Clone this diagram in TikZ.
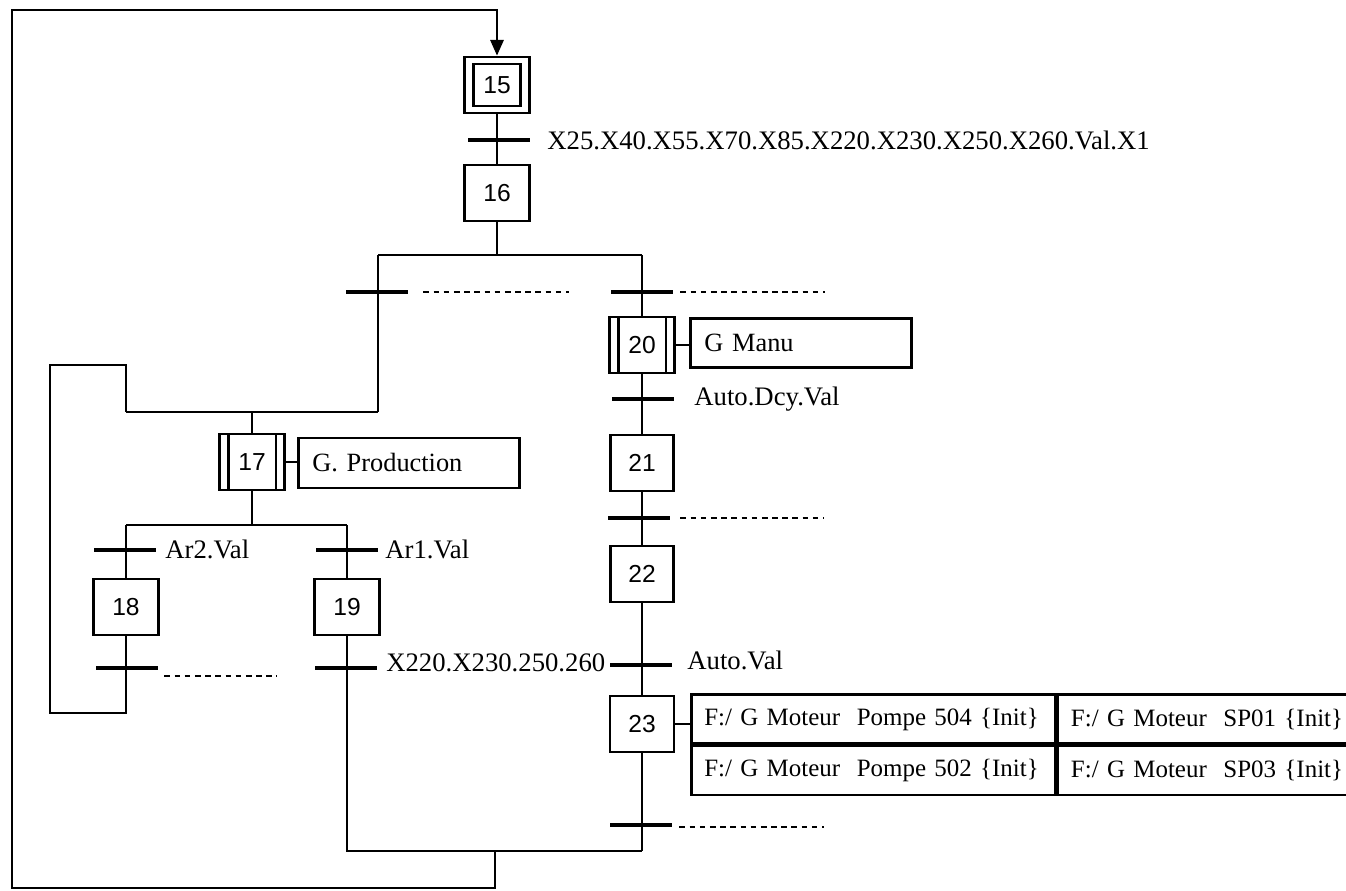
\documentclass[tikz,border=0pt]{standalone}
\usepackage{fontspec}
\setmainfont{Liberation Serif}
\setsansfont{Liberation Sans}
\usetikzlibrary{arrows.meta}

\begin{document}
\begin{tikzpicture}[x=0.2mm,y=-0.2mm,
    lien/.style={line width=1.5pt},
    etape/.style={draw, line width=1.5pt, fill=white, minimum width=13mm, minimum height=11.2mm, inner sep=0pt, font=\sffamily\fontsize{14}{16}\selectfont},
    macroetape/.style={etape, path picture={
        \draw[line width=1.3pt] ([xshift=1.8mm]path picture bounding box.north west) -- ([xshift=1.8mm]path picture bounding box.south west);
        \draw[line width=1.3pt] ([xshift=-1.7mm]path picture bounding box.north east) -- ([xshift=-1.7mm]path picture bounding box.south east);}},
    transbar/.style={fill=black, minimum width=12.4mm, minimum height=0.8mm, inner sep=0pt},
    recept/.style={anchor=west, inner sep=0pt, font=\fontsize{15.2}{18}\selectfont},
    pointille/.style={line width=1.1pt, dash pattern=on 3.2pt off 2.6pt},
    action/.style={draw, line width=1.5pt, anchor=west, minimum height=10mm, text width=38.6mm, inner xsep=2.8mm, align=left, font=\fontsize{15}{18}\selectfont},
    cellule/.style={draw, line width=1.5pt, anchor=west, minimum height=9.8mm, inner xsep=2.6mm, align=left, font=\fontsize{14.2}{17}\selectfont}
]
    \useasboundingbox (0,0) rectangle (1346,890);

    % Steps, main line
    \node[etape] (s15) at (497,85) {};
    \node[etape, minimum width=9.4mm, minimum height=8.4mm] (s15n) at (s15.center) {15};
    \node[etape] (s16) at (497,193) {16};

    % Left branch
    \node[macroetape] (s17) at (252,462) {17};
    \node[action] (prod) at (297,463) {G. Production};
    \node[etape] (s18) at (126,607) {18};
    \node[etape] (s19) at (347,607) {19};

    % Right branch
    \node[macroetape] (s20) at (642,345) {20};
    \node[action, minimum height=9.8mm] (manu) at (689,343) {G Manu};
    \node[etape, minimum width=12.6mm] (s21) at (642,463) {21};
    \node[etape, minimum width=12.6mm] (s22) at (642,574) {22};
    \node[etape, minimum width=12.8mm] (s23) at (642,724) {23};

    % Actions of step 23
    \node[cellule, minimum width=72.8mm, text width=67.6mm] (a1) at (690,719) {\mbox{F:/ G Moteur~~Pompe 504 \{Init\}}};
    \node[cellule, minimum width=59.6mm, text width=54.4mm] (a2) at (a1.east) {\mbox{F:/ G Moteur~~SP01 \{Init\}}};
    \node[cellule, minimum width=72.8mm, text width=67.6mm, anchor=north west] (a3) at (a1.south west) {\mbox{F:/ G Moteur~~Pompe 502 \{Init\}}};
    \node[cellule, minimum width=59.6mm, text width=54.4mm] (a4) at (a3.east) {\mbox{F:/ G Moteur~~SP03 \{Init\}}};

    % Junction points
    \coordinate (divG) at (378,255);
    \coordinate (divD) at (642,255);
    \coordinate (convG) at (126,412);
    \coordinate (convD) at (378,412);
    \coordinate (bo18) at (126,713);
    \coordinate (ho18) at (50,365);
    \coordinate (div17G) at (126,525);
    \coordinate (div17D) at (347,525);
    \coordinate (convBG) at (347,851);
    \coordinate (convBD) at (642,851);
    \coordinate (retour) at (495,851);
    \coordinate (bas) at (12,888);
    \coordinate (haut) at (12,10);

    % Links
    \draw[lien] (s15) -- (s16);
    \draw[lien] (s16) -- (s16 |- divG);
    \draw[lien] (divG) -- (divD);
    \draw[lien] (divG) -- (convD);
    \draw[lien] (convG) -- (convD);
    \draw[lien] (s17) -- (s17 |- convG);
    \draw[lien] (s17) -- (s17 |- div17G);
    \draw[lien] (div17G) -- (div17D);
    \draw[lien] (div17G) -- (s18);
    \draw[lien] (div17D) -- (s19);
    \draw[lien] (s18) -- (bo18) -| (ho18) -| (convG);
    \draw[lien] (s19) -- (convBG) -- (convBD);
    \draw[lien] (divD) -- (s20);
    \draw[lien] (s20) -- (s21);
    \draw[lien] (s21) -- (s22);
    \draw[lien] (s22) -- (s23);
    \draw[lien] (s23) -- (convBD);
    \draw[lien, -{Triangle[width=7.5pt,length=9pt]}] (retour) |- (bas) -- (haut) -| (s15.north);

    % Action links
    \draw[lien] (s17.east) -- (s17.east -| prod.west);
    \draw[lien] (s20.east) -- (s20.east -| manu.west);
    \draw[lien] (s23.east) -- (s23.east -| a1.west);

    % Transitions
    \node[transbar] (t15) at (499,140) {};
    \node[transbar] (t16a) at (377,292) {};
    \node[transbar] (t16b) at (642,292) {};
    \node[transbar] (t20) at (643,399) {};
    \node[transbar] (t21) at (639,518) {};
    \node[transbar] (t22) at (641,665) {};
    \node[transbar] (t23) at (641,825) {};
    \node[transbar] (tAr2) at (125,550) {};
    \node[transbar] (tAr1) at (347,550) {};
    \node[transbar] (t18) at (127,668) {};
    \node[transbar] (t19) at (346,668) {};

    % Receptivities
    \node[recept] (r15) at (547,140) {X25.X40.X55.X70.X85.X220.X230.X250.X260.Val.X1};
    \node[recept] (r20) at (694,399) {Auto.Dcy.Val};
    \node[recept] (r22) at (687,660) {Auto.Val};
    \node[recept] (r19) at (386,663) {X220.X230.250.260};
    \node[recept] (rAr2) at (165,549) {Ar2.Val};
    \node[recept] (rAr1) at (385,549) {Ar1.Val};
    \draw[pointille] ([xshift=3mm]t16a.east) -- ++(146,0);
    \draw[pointille] ([xshift=1.4mm]t16b.east) -- ++(145,0);
    \draw[pointille] ([xshift=2mm]t21.east) -- ++(144,0);
    \draw[pointille] ([xshift=1.4mm,yshift=-0.4mm]t23.east) -- ++(145,0);
    \draw[pointille] ([xshift=1.2mm,yshift=-1.6mm]t18.east) -- ++(113,0);
\end{tikzpicture}
\end{document}
